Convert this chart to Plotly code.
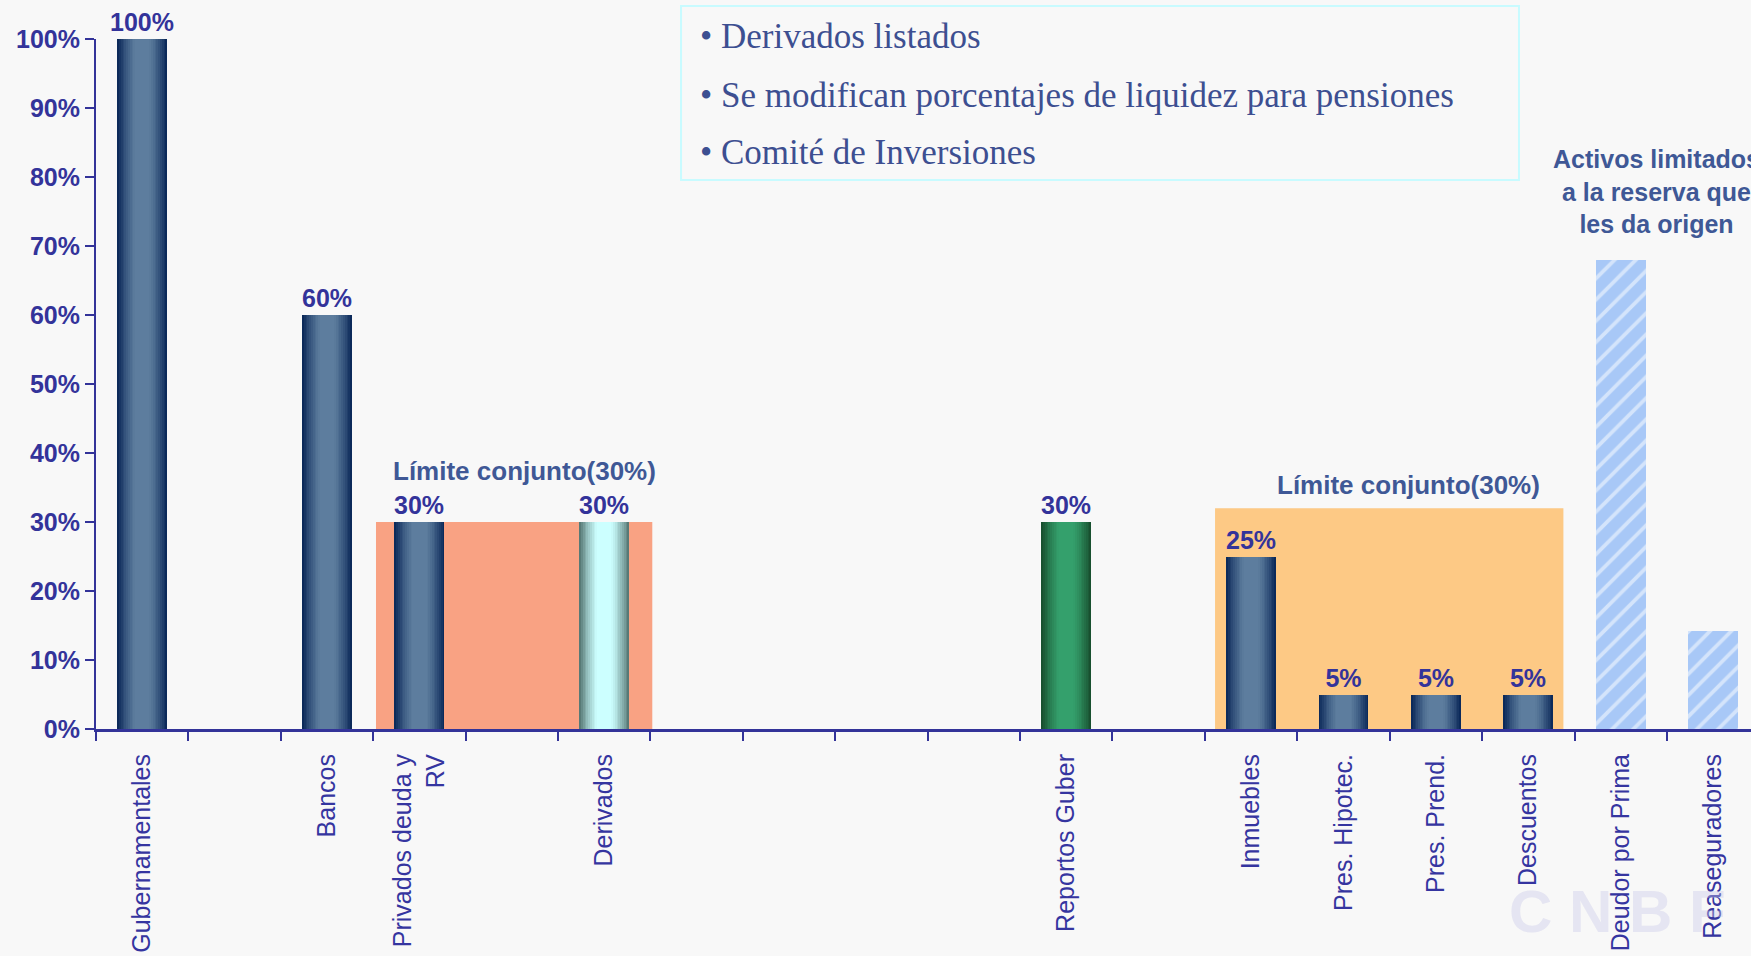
import plotly.graph_objects as go
import numpy as np

# ---------------- data ----------------
categories = ["Gubernamentales", " ", "Bancos", "Privados deuda y<br>RV", "  ", "Derivados",
              "   ", "    ", "     ", "      ", "Reportos Guber", "       ", "Inmuebles",
              "Pres. Hipotec.", "Pres. Prend.", "Descuentos", "Deudor por Prima", "Reaseguradores"]
values = [100, None, 60, 30, None, 30, None, None, None, None, 30, None, 25, 5, 5, 5, 68, 14.2]
bar_kind = ["navy", None, "navy", "navy", None, "cyan", None, None, None, None, "green", None,
            "navy", "navy", "navy", "navy", "stripe", "stripe"]
value_labels = ["100%", "", "60%", "30%", "", "30%", "", "", "", "", "30%", "", "25%", "5%", "5%", "5%", "", ""]
y_ticks = [0, 10, 20, 30, 40, 50, 60, 70, 80, 90, 100]
y_tick_text = ["0%", "10%", "20%", "30%", "40%", "50%", "60%", "70%", "80%", "90%", "100%"]

limit_members = [["Privados deuda y<br>RV", "Derivados"],
                 ["Inmuebles", "Pres. Hipotec.", "Pres. Prend.", "Descuentos"]]
limit_tops = [30, 32]
limit_labels = ["Límite conjunto(30%)", "Límite conjunto(30%)"]

notes = ["• Derivados listados",
         "• Se modifican porcentajes de liquidez para pensiones",
         "• Comité de Inversiones"]
side_note = "Activos limitados<br>a la reserva que<br>les da origen"
watermark = "C N B F"

# ---------------- styles ----------------
BG = "#f8f8f8"
AXIS = "#333399"
LBL = "#33339a"
NOTE = "#3f5896"
gradients = {"navy": ("#0c2a5a", "#5d7d9e"),
             "cyan": ("#587a76", "#ccffff"),
             "green": ("#18502f", "#34a06c")}
BAR_W = 0.54
N_LAYERS = 14


def hex2rgb(h):
    h = h.lstrip("#")
    return np.array([int(h[i:i + 2], 16) for i in (0, 2, 4)], dtype=float)


def mix(c_dark, c_light, m):
    c = hex2rgb(c_light) * (1 - m) + hex2rgb(c_dark) * m
    return "rgb(%d,%d,%d)" % tuple(np.round(c).astype(int))


fig = go.Figure()

# gradient (cylinder-like) solid bars built from overlaid bars of decreasing width
for k in range(N_LAYERS):
    t = 1 - k / N_LAYERS
    m = float(np.clip((t - 0.3) / 0.7, 0, 1)) ** 1.3
    ys, cols = [], []
    for v, kind in zip(values, bar_kind):
        if kind in gradients:
            ys.append(v)
            cols.append(mix(gradients[kind][0], gradients[kind][1], m))
        else:
            ys.append(None)
            cols.append("rgba(0,0,0,0)")
    fig.add_trace(go.Bar(
        x=categories, y=ys, width=BAR_W * t,
        marker=dict(color=cols, line=dict(width=0)),
        text=value_labels if k == 0 else None,
        textposition="outside" if k == 0 else "none",
        textfont=dict(family="Liberation Sans, Arial", size=25, color=LBL, weight="bold"),
        constraintext="none", cliponaxis=False,
        hoverinfo="skip", showlegend=False))

# striped bars
fig.add_trace(go.Bar(
    x=categories,
    y=[v if kind == "stripe" else None for v, kind in zip(values, bar_kind)],
    width=BAR_W,
    marker=dict(color="#a8c8f7", line=dict(width=0),
                pattern=dict(shape="/", fgcolor="white", size=15, solidity=0.25)),
    hoverinfo="skip", showlegend=False))

# joint-limit rectangles
pads = [(-0.47, 0.52), (-0.39, 0.38)]
fills = ["#f9a283", "#fdc985"]
label_pos = [(4.14, 37.4), (13.7, 35.3)]
for members, top, pad, fill, lab, lp in zip(limit_members, limit_tops, pads, fills, limit_labels, label_pos):
    i0 = categories.index(members[0])
    i1 = categories.index(members[-1])
    fig.add_shape(type="rect", xref="x", yref="y", x0=i0 + pad[0], x1=i1 + pad[1], y0=0, y1=top,
                  fillcolor=fill, line=dict(width=0), layer="below")
    fig.add_annotation(x=lp[0], y=lp[1], xref="x", yref="y", text=lab, showarrow=False,
                       font=dict(family="Liberation Sans, Arial", size=26, color=NOTE, weight="bold"))

# side note
fig.add_annotation(x=16.39, y=77.9, xref="x", yref="y", text=side_note, showarrow=False,
                   font=dict(family="Liberation Sans, Arial", size=25, color=NOTE, weight="bold"),
                   align="center")

# text box
fig.add_shape(type="rect", xref="paper", yref="paper", x0=0.3535, x1=0.8598, y0=0.7957, y1=1.0478,
              line=dict(color="#c8fbff", width=2), fillcolor="rgba(0,0,0,0)")
for txt, yp in zip(notes, [1.0029, 0.9188, 0.8362]):
    fig.add_annotation(x=0.364, y=yp, xref="paper", yref="paper", text=txt, showarrow=False,
                       xanchor="left", yanchor="middle",
                       font=dict(family="Liberation Serif, Times New Roman", size=35, color="#3d4f91"))

# watermark
fig.add_annotation(x=15.97, y=-0.265, xref="x", yref="paper", text=watermark, showarrow=False,
                   xanchor="center", yanchor="middle",
                   font=dict(family="Liberation Sans, Arial", size=60, color="rgba(200,200,232,0.4)",
                             weight="bold"))

fig.update_layout(
    width=1751, height=956,
    margin=dict(l=96, r=0, t=39, b=227),
    paper_bgcolor=BG, plot_bgcolor=BG,
    barmode="overlay", bargap=0,
    xaxis=dict(type="category", categoryorder="array", categoryarray=categories,
               range=[-0.5, 17.41], tickson="boundaries", ticks="outside", ticklen=9,
               tickwidth=2, tickcolor=AXIS, showline=True, linecolor=AXIS, linewidth=3,
               tickangle=-90, showgrid=False, ticklabelstandoff=12,
               tickfont=dict(family="Liberation Sans, Arial", size=25, color="#3535a0")),
    yaxis=dict(range=[0, 100], tickmode="array", tickvals=y_ticks, ticktext=y_tick_text,
               ticks="outside", ticklen=9, tickwidth=2, tickcolor=AXIS,
               showline=True, linecolor=AXIS, linewidth=2, showgrid=False, zeroline=False,
               tickfont=dict(family="Liberation Sans, Arial", size=25, color=LBL, weight="bold")),
)

fig.write_html("out.html", config={"displayModeBar": False},
               post_script="document.body.style.margin='0';document.body.style.overflow='hidden';")
